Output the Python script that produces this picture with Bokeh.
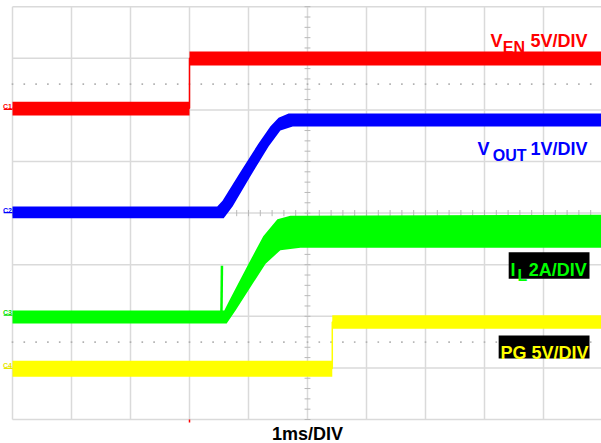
import numpy as np
from bokeh.plotting import figure
from bokeh.embed import file_html
from bokeh.resources import INLINE
from bokeh.models import Range1d
from bokeh.core.properties import value

# Units: x in divisions (1 ms/DIV), y in screen divisions (0..8)
# VEN (red, 5V/DIV) - trace band edges
ven_x = [0, 3.0, 3.0, 10]
ven_upper = [6.16, 6.16, 7.13, 7.13]
ven_lower = [5.89, 5.89, 6.86, 6.86]
ven_mid = [6.03, 6.03, 7.00, 7.00]

# VOUT (blue, 1V/DIV)
vout_up_x = [0, 3.47, 3.56, 3.86, 4.17, 4.37, 4.51, 4.68, 10]
vout_up_y = [4.13, 4.13, 4.24, 4.79, 5.35, 5.68, 5.85, 5.93, 5.93]
vout_lo_x = [0, 3.58, 3.73, 4.03, 4.34, 4.54, 4.75, 10]
vout_lo_y = [3.90, 3.90, 4.13, 4.71, 5.29, 5.60, 5.68, 5.68]

# IL (green, 2A/DIV)
il_up_x = [0, 3.59, 3.66, 3.81, 4.03, 4.25, 4.49, 4.71, 10]
il_up_y = [2.11, 2.11, 2.27, 2.60, 3.08, 3.55, 3.88, 3.95, 3.97]
il_lo_x = [0, 3.63, 3.78, 4.03, 4.29, 4.54, 4.88, 10]
il_lo_y = [1.86, 1.86, 2.11, 2.56, 3.02, 3.28, 3.33, 3.33]
il_spike_x = [3.54, 3.55]
il_spike_y = [1.95, 2.98]

# PG (yellow, 5V/DIV)
pg_x = [0, 5.42, 5.42, 10]
pg_upper = [1.14, 1.14, 2.02, 2.02]
pg_lower = [0.83, 0.83, 1.76, 1.76]
pg_mid = [0.99, 0.99, 1.89, 1.89]

# channel ground markers
marker_names = ["C1", "C2", "C3", "C4"]
marker_levels = [6.01, 4.01, 2.02, 0.99]
marker_colors = ["#ff0000", "#0000ff", "#00e000", "#e6e600"]

RED = "#ff0000"
BLUE = "#0000ff"
GREEN = "#00ff00"
YELLOW = "#ffff00"
FONT = value("Liberation Sans")

p = figure(width=601, height=443, x_range=Range1d(-12 / 59, 589 / 59),
           y_range=Range1d(-24 / 51.6, 419 / 51.6), output_backend="svg",
           toolbar_location=None, min_border=0,
           x_axis_type=None, y_axis_type=None)
p.outline_line_color = None
p.background_fill_color = "white"

# graticule
gx = list(range(0, 11))
gy = list(range(0, 9))
p.segment(x0=gx, y0=[0] * len(gx), x1=gx, y1=[8] * len(gx),
          line_color="#dadada", line_width=1.5)
p.segment(x0=[0] * len(gy), y0=gy, x1=[10] * len(gy), y1=gy,
          line_color="#dadada", line_width=1.5)
# center line minor ticks
tx = np.arange(0, 10.001, 0.2)
p.segment(x0=tx, y0=4 - 0.06, x1=tx, y1=4 + 0.06, line_color="#b8b8b8", line_width=1)
ty = np.arange(0, 8.001, 0.2)
p.segment(x0=5 - 0.05, y0=ty, x1=5 + 0.05, y1=ty, line_color="#b8b8b8", line_width=1)
# dotted reference rows
for yy in (6.5, 1.5):
    p.scatter(x=tx, y=[yy] * len(tx), marker="square", size=1.6,
              fill_color="#b0b0b0", line_color=None)

# traces
def band(xu, yu, xl, yl):
    return list(xu) + list(xl)[::-1], list(yu) + list(yl)[::-1]

bx, by = band(ven_x, ven_upper, ven_x, ven_lower)
p.patch(bx, by, fill_color=RED, line_color=None)
p.line(ven_x, ven_mid, line_color=RED, line_width=1.5)

bx, by = band(vout_up_x, vout_up_y, vout_lo_x, vout_lo_y)
p.patch(bx, by, fill_color=BLUE, line_color=None)

bx, by = band(il_up_x, il_up_y, il_lo_x, il_lo_y)
p.patch(bx, by, fill_color=GREEN, line_color=None)
p.line(il_spike_x, il_spike_y, line_color=GREEN, line_width=2.5)

bx, by = band(pg_x, pg_upper, pg_x, pg_lower)
p.patch(bx, by, fill_color=YELLOW, line_color=None)
p.line(pg_x, pg_mid, line_color=YELLOW, line_width=1.5)

# channel markers and trigger mark
p.segment(x0=[-0.15] * 4, y0=marker_levels, x1=[0] * 4, y1=marker_levels,
          line_color=marker_colors, line_width=1.2)
p.text(x=[-0.16] * 4, y=[v + 0.05 for v in marker_levels], text=marker_names,
       text_color=marker_colors, text_font=FONT, text_font_size="7px",
       text_font_style="bold", text_baseline="alphabetic", text_align="left")
p.segment(x0=[3.0], y0=[0], x1=[3.0], y1=[-0.06], line_color=RED, line_width=1.5)

# label boxes
p.quad(left=[8.41, 8.24], right=[9.78, 9.78], bottom=[2.73, 1.18], top=[3.24, 1.63],
       fill_color="black", line_color=None)

def txt(x, y, s, color, size):
    p.text(x=[x], y=[y], text=[s], text_color=color, text_font=FONT,
           text_font_style="bold", text_font_size=size,
           text_baseline="alphabetic", text_align="left")

txt(8.10, 7.33, "V", RED, "18px")
txt(8.31, 7.21, "EN", RED, "16px")
txt(8.78, 7.33, "5V/DIV", RED, "18px")

txt(7.88, 5.25, "V", BLUE, "18px")
txt(8.14, 5.12, "OUT", BLUE, "16px")
txt(8.78, 5.25, "1V/DIV", BLUE, "18px")

txt(8.44, 2.89, "I", GREEN, "18px")
txt(8.56, 2.80, "L", GREEN, "16px")
txt(8.75, 2.89, "2A/DIV", GREEN, "18px")

txt(8.27, 1.28, "PG 5V/DIV", YELLOW, "18px")

p.text(x=[5.0], y=[-0.29], text=["1ms/DIV"], text_color="black", text_font=FONT,
       text_font_style="bold", text_font_size="18px",
       text_baseline="alphabetic", text_align="center")

open("out.html", "w").write(file_html(p, INLINE))
